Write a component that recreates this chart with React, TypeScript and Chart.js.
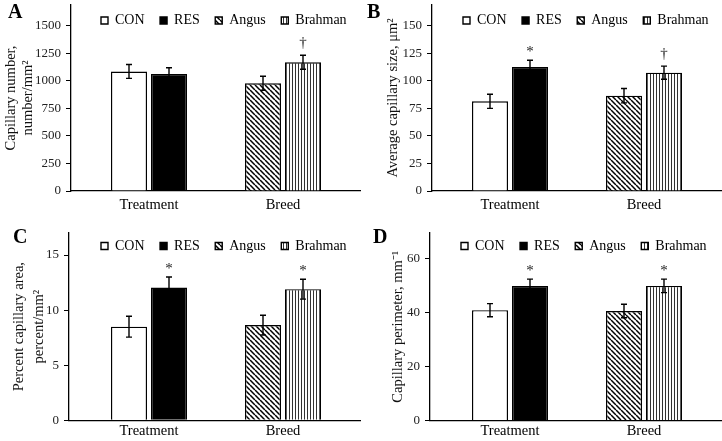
import React, { useEffect, useRef } from 'react';
import { Chart, registerables } from 'chart.js';

Chart.register(...registerables);

// ---------- data ----------
const categories = ['Treatment', 'Breed'];
const seriesNames = ['CON', 'RES', 'Angus', 'Brahman'];
const seriesGroup = [0, 0, 1, 1]; // index of the category each series belongs to

const capNumberMeans = [1086, 1064, 979, 1170];
const capNumberErrors = [63, 56, 64, 64];
const capNumberMarks = ['', '', '', '†'];
const capNumberTicks = [0, 250, 500, 750, 1000, 1250, 1500];

const capSizeMeans = [81.5, 112.7, 86.6, 107.5];
const capSizeErrors = [6.4, 6.1, 6.5, 6.0];
const capSizeMarks = ['', '*', '', '†'];
const capSizeTicks = [0, 25, 50, 75, 100, 125, 150];

const capAreaMeans = [8.5, 12.05, 8.64, 11.9];
const capAreaErrors = [0.95, 0.95, 0.9, 0.9];
const capAreaMarks = ['', '*', '', '*'];
const capAreaTicks = [0, 5, 10, 15];

const capPerimMeans = [40.9, 49.9, 40.6, 49.9];
const capPerimErrors = [2.45, 2.5, 2.5, 2.5];
const capPerimMarks = ['', '*', '', '*'];
const capPerimTicks = [0, 20, 40, 60];

// ---------- styling ----------
const FONT = "'Liberation Serif', 'Times New Roman', Times, serif";
const GROUP_CENTERS = [149, 283]; // canvas px of the two groups
const UNIT_PX = GROUP_CENTERS[1] - GROUP_CENTERS[0];
const LEGEND_PAD = 15.5;
const LEGEND_FONT = 14;

function diagPattern(): CanvasPattern {
  const s = 5;
  const c = document.createElement('canvas');
  c.width = s;
  c.height = s;
  const g = c.getContext('2d')!;
  g.fillStyle = '#fff';
  g.fillRect(0, 0, s, s);
  g.strokeStyle = '#000';
  g.lineWidth = 1.5;
  g.beginPath();
  for (let k = -1; k <= 1; k++) {
    g.moveTo(k * s, 0);
    g.lineTo(k * s + s, s);
  }
  g.stroke();
  return g.createPattern(c, 'repeat')!;
}

function vertPattern(): CanvasPattern {
  const c = document.createElement('canvas');
  c.width = 3;
  c.height = 4;
  const g = c.getContext('2d')!;
  g.fillStyle = '#fff';
  g.fillRect(0, 0, 3, 4);
  g.fillStyle = '#333';
  g.fillRect(1, 0, 1, 4);
  return g.createPattern(c, 'repeat')!;
}

type Area = { left: number; top: number; right: number; bottom: number };

type PanelProps = {
  x: number;
  y: number;
  w: number;
  h: number;
  area: Area;
  means: number[];
  errors: number[];
  marks: string[];
  ticks: number[];
  yMax: number;
  yTitle: string | string[];
  titlePad: number;
  titleLine: number;
  xPad: number;
  legendX: number;
  legendY: number;
  letter: string;
  letterX: number;
  letterY: number;
};

function Panel(p: PanelProps) {
  const ref = useRef<HTMLCanvasElement>(null);

  useEffect(() => {
    const canvas = ref.current;
    if (!canvas) return;
    const fills: (string | CanvasPattern)[] = ['#ffffff', '#000000', diagPattern(), vertPattern()];

    const datasets = seriesNames.map((name, i) => ({
      label: name,
      data: categories.map((_, c) => ({ x: c + 1, y: seriesGroup[i] === c ? p.means[i] : null })),
      backgroundColor: fills[i],
      borderColor: '#000',
      borderWidth: 1.4,
      borderSkipped: 'start' as const,
      categoryPercentage: 80 / UNIT_PX,
      barPercentage: 0.9,
      skipNull: true,
    }));

    const xMin = 1 - (GROUP_CENTERS[0] - p.area.left) / UNIT_PX;
    const xMax = 2 + (p.area.right - GROUP_CENTERS[1]) / UNIT_PX;

    const errorPlugin = {
      id: 'errorBars',
      afterDatasetsDraw(chart: any) {
        const ctx = chart.ctx as CanvasRenderingContext2D;
        const ys = chart.scales.y;
        ctx.save();
        chart.data.datasets.forEach((ds: any, i: number) => {
          const meta = chart.getDatasetMeta(i);
          meta.data.forEach((bar: any, j: number) => {
            const v = ds.data[j].y;
            if (v === null || v === undefined) return;
            const e = p.errors[i];
            const yt = ys.getPixelForValue(v + e);
            const yb = ys.getPixelForValue(v - e);
            const bx = bar.x;
            ctx.strokeStyle = '#000';
            ctx.lineWidth = 1.4;
            ctx.beginPath();
            ctx.moveTo(bx, yt);
            ctx.lineTo(bx, yb);
            ctx.moveTo(bx - 3, yt);
            ctx.lineTo(bx + 3, yt);
            ctx.moveTo(bx - 3, yb);
            ctx.lineTo(bx + 3, yb);
            ctx.stroke();
            const m = p.marks[i];
            if (m) {
              ctx.fillStyle = '#222';
              ctx.font = `15px ${FONT}`;
              ctx.textAlign = 'center';
              ctx.textBaseline = 'alphabetic';
              ctx.fillText(m, bx, yt - (m === '*' ? 4 : 8));
            }
          });
        });
        ctx.restore();
      },
    };

    const legendPlacePlugin = {
      id: 'legendPlace',
      beforeLayout(chart: any) {
        const lg = chart.legend;
        if (lg) lg.isHorizontal = () => true;
      },
      afterLayout(chart: any) {
        const lg = chart.legend;
        if (!lg) return;
        lg.left = p.legendX - LEGEND_PAD;
        lg.right = lg.left + 1000;
        lg.top = p.legendY - LEGEND_PAD - LEGEND_FONT / 2;
        lg.bottom = lg.top + lg.height;
      },
    };

    const chart = new Chart(canvas, {
      type: 'bar',
      data: { datasets: datasets as any },
      plugins: [errorPlugin, legendPlacePlugin],
      options: {
        animation: false,
        responsive: false,
        maintainAspectRatio: false,
        layout: {
          padding: {
            left: 0,
            top: p.area.top,
            right: p.w - p.area.right,
            bottom: 0,
          },
        },
        plugins: {
          tooltip: { enabled: false },
          title: { display: false },
          legend: {
            display: true,
            position: 'chartArea',
            align: 'start',
            labels: {
              boxWidth: 7,
              boxHeight: 7,
              padding: LEGEND_PAD,
              color: '#000',
              font: { family: FONT, size: LEGEND_FONT },
            },
          },
        },
        scales: {
          x: {
            type: 'linear',
            position: 'bottom',
            offset: false,
            min: xMin,
            max: xMax,
            grid: { display: false, drawTicks: false, offset: false },
            border: { display: true, color: '#000', width: 1.3 },
            ticks: {
              color: '#000',
              padding: p.xPad,
              maxRotation: 0,
              autoSkip: false,
              font: { family: FONT, size: 14.5 },
              callback: (v: any) => categories[Math.round(Number(v)) - 1] ?? '',
            },
            afterBuildTicks: (s: any) => {
              s.ticks = categories.map((_, i) => ({ value: i + 1 }));
            },
            afterFit: (s: any) => {
              s.height = p.h - p.area.bottom;
              s.paddingLeft = 0;
              s.paddingRight = 0;
            },
          },
          y: {
            type: 'linear',
            position: 'left',
            min: 0,
            max: p.yMax,
            grid: {
              display: true,
              drawOnChartArea: false,
              drawTicks: true,
              tickLength: 5,
              color: '#000',
              lineWidth: 1,
            },
            border: { display: true, color: '#000', width: 1.3 },
            ticks: {
              color: '#222',
              padding: 5,
              font: { family: FONT, size: 13 },
              callback: (v: any) => String(v),
            },
            afterBuildTicks: (s: any) => {
              s.ticks = p.ticks.map((v) => ({ value: v }));
            },
            title: {
              display: true,
              text: p.yTitle,
              color: '#111',
              font: { family: FONT, size: 14.5, lineHeight: `${p.titleLine}px` },
              padding: { top: p.titlePad, bottom: 0 },
            },
            afterFit: (s: any) => {
              s.width = p.area.left;
              s.paddingTop = 0;
              s.paddingBottom = 0;
            },
          },
        },
      } as any,
    });

    return () => chart.destroy();
  }, []);

  return (
    <div style={{ position: 'absolute', left: p.x, top: p.y, width: p.w, height: p.h }}>
      <canvas ref={ref} width={p.w} height={p.h} style={{ display: 'block' }} />
      <div
        style={{
          position: 'absolute',
          left: p.letterX,
          top: p.letterY,
          fontFamily: FONT,
          fontWeight: 'bold',
          fontSize: 20,
          lineHeight: 1,
          color: '#000',
        }}
      >
        {p.letter}
      </div>
    </div>
  );
}

export default function App() {
  return (
    <div
      style={{
        position: 'fixed',
        left: 0,
        top: 0,
        width: 722,
        height: 441,
        background: '#fff',
        overflow: 'hidden',
      }}
    >
      <Panel
        x={0}
        y={0}
        w={361}
        h={220}
        area={{ left: 71, top: 5, right: 360, bottom: 191 }}
        means={capNumberMeans}
        errors={capNumberErrors}
        marks={capNumberMarks}
        ticks={capNumberTicks}
        yMax={1690}
        yTitle={['Capillary number,', 'number/mm²']}
        titlePad={2.5}
        titleLine={17}
        xPad={5.3}
        legendX={101}
        legendY={20.5}
        letter="A"
        letterX={8}
        letterY={1}
      />
      <Panel
        x={361}
        y={0}
        w={361}
        h={220}
        area={{ left: 71, top: 5, right: 361, bottom: 191 }}
        means={capSizeMeans}
        errors={capSizeErrors}
        marks={capSizeMarks}
        ticks={capSizeTicks}
        yMax={169}
        yTitle={'Average capillary size, μm²'}
        titlePad={23.5}
        titleLine={17}
        xPad={5.3}
        legendX={102}
        legendY={20.5}
        letter="B"
        letterX={6}
        letterY={1}
      />
      <Panel
        x={0}
        y={220}
        w={361}
        h={221}
        area={{ left: 69, top: 13, right: 361, bottom: 200.3 }}
        means={capAreaMeans}
        errors={capAreaErrors}
        marks={capAreaMarks}
        ticks={capAreaTicks}
        yMax={17}
        yTitle={['Percent capillary area,', 'percent/mm²']}
        titlePad={9.75}
        titleLine={19.5}
        xPad={2}
        legendX={101}
        legendY={26}
        letter="C"
        letterX={13}
        letterY={6}
      />
      <Panel
        x={361}
        y={220}
        w={361}
        h={221}
        area={{ left: 69, top: 13, right: 361, bottom: 200.6 }}
        means={capPerimMeans}
        errors={capPerimErrors}
        marks={capPerimMarks}
        ticks={capPerimTicks}
        yMax={69.5}
        yTitle={'Capillary perimeter, mm⁻¹'}
        titlePad={29}
        titleLine={17}
        xPad={2}
        legendX={100}
        legendY={26}
        letter="D"
        letterX={12}
        letterY={6}
      />
    </div>
  );
}
